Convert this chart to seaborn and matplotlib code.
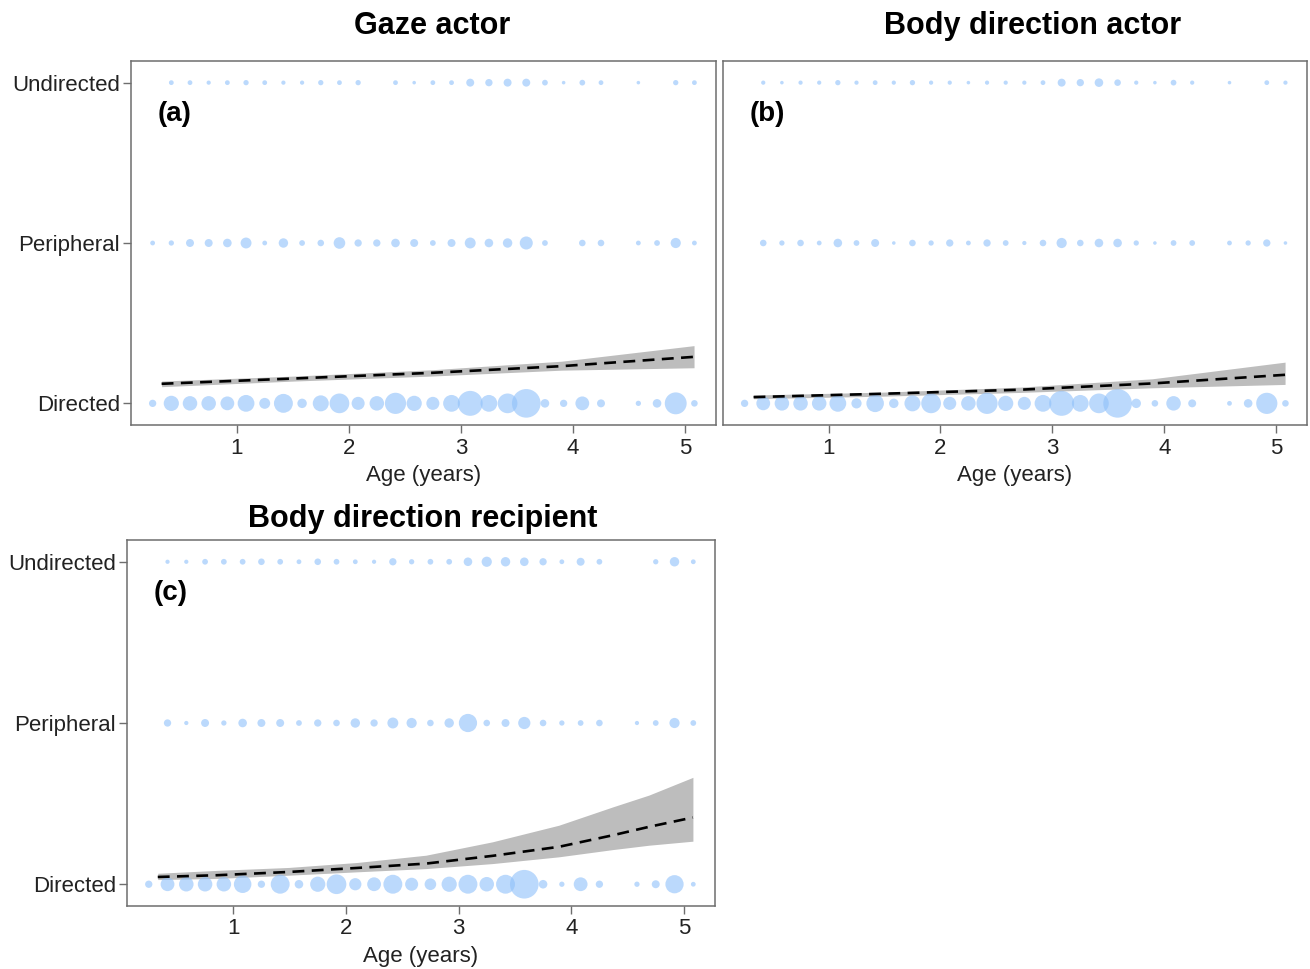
import numpy as np
import pandas as pd
import matplotlib
matplotlib.use("Agg")
import matplotlib.pyplot as plt
import seaborn as sns

# ---------------- data ----------------
months = list(range(3, 62, 2))          # age in months for each dot column
levels = ["Directed", "Peripheral", "Undirected"]
x_ticks = [1, 2, 3, 4, 5]

# counts (dot sizes) per age column, 0 = no dot
a_dir = [9, 44, 40, 40, 36, 54, 22, 69, 16, 49, 75, 32, 40, 87, 44, 32, 54, 121, 54, 75, 160, 13, 9, 36, 11, 0, 4, 13, 93, 7]
a_per = [3, 4, 11, 11, 13, 22, 3, 16, 5, 7, 25, 9, 9, 13, 11, 5, 11, 22, 13, 16, 32, 5, 0, 7, 7, 0, 3, 5, 19, 3]
a_und = [0, 3, 3, 2, 3, 4, 3, 2, 2, 4, 3, 4, 0, 3, 1, 3, 3, 11, 9, 11, 11, 5, 1, 5, 3, 0, 1, 0, 4, 3]

b_dir = [9, 36, 40, 40, 40, 54, 19, 59, 16, 49, 75, 32, 40, 87, 44, 32, 54, 121, 54, 75, 160, 16, 7, 40, 11, 0, 3, 13, 87, 7]
b_per = [0, 7, 4, 7, 3, 13, 5, 11, 1, 7, 4, 9, 3, 9, 5, 2, 7, 19, 7, 13, 13, 4, 1, 5, 5, 0, 3, 4, 9, 1]
b_und = [0, 2, 1, 2, 2, 4, 2, 3, 2, 4, 2, 2, 1, 2, 2, 2, 3, 11, 9, 13, 7, 2, 1, 5, 2, 0, 1, 0, 3, 2]

c_dir = [9, 36, 40, 40, 40, 59, 9, 69, 13, 44, 75, 28, 36, 69, 32, 25, 44, 69, 40, 69, 160, 13, 4, 36, 9, 0, 4, 11, 64, 3]
c_per = [0, 9, 2, 11, 4, 13, 11, 11, 5, 9, 7, 16, 9, 22, 19, 7, 16, 64, 7, 11, 28, 7, 4, 5, 7, 0, 2, 5, 19, 5]
c_und = [0, 2, 2, 5, 5, 5, 7, 5, 3, 7, 5, 3, 2, 9, 4, 5, 5, 13, 19, 16, 13, 9, 3, 11, 5, 0, 0, 4, 16, 3]

# fitted curves (value on 0..2 outcome scale) with confidence band
a_age = [0.33, 1.51, 2.73, 3.90, 5.08]
a_fit = [0.122, 0.155, 0.190, 0.232, 0.290]
a_lo = [0.104, 0.139, 0.170, 0.207, 0.222]
a_hi = [0.139, 0.170, 0.209, 0.263, 0.360]

b_age = [0.33, 1.49, 2.71, 3.89, 5.08]
b_fit = [0.039, 0.060, 0.085, 0.124, 0.178]
b_lo = [0.029, 0.045, 0.068, 0.097, 0.118]
b_hi = [0.052, 0.070, 0.101, 0.153, 0.257]

c_age = [0.33, 0.86, 1.49, 2.10, 2.71, 3.30, 3.89, 4.37, 4.69, 5.08]
c_fit = [0.045, 0.056, 0.076, 0.101, 0.128, 0.176, 0.232, 0.304, 0.356, 0.414]
c_lo = [0.029, 0.036, 0.056, 0.077, 0.097, 0.128, 0.170, 0.215, 0.242, 0.267]
c_hi = [0.068, 0.086, 0.104, 0.135, 0.180, 0.263, 0.366, 0.480, 0.553, 0.663]

titles = ["Gaze actor", "Body direction actor", "Body direction recipient"]
tags = ["(a)", "(b)", "(c)"]

# ---------------- style ----------------
sns.set_theme(style="white")
plt.rcParams["font.family"] = ["Liberation Sans", "DejaVu Sans"]

W, H = 1310, 969
fig = plt.figure(figsize=(W / 100, H / 100), dpi=100)

def px_axes(l, t, r, b):
    return fig.add_axes([l / W, 1 - b / H, (r - l) / W, (b - t) / H])

axes = [px_axes(131, 61, 716, 425), px_axes(723, 61, 1307, 425), px_axes(127, 540, 715, 906)]
title_pos = [(432, 26), (1033, 26), (423, 519)]

panels = [
    (a_dir, a_per, a_und, a_age, a_fit, a_lo, a_hi),
    (b_dir, b_per, b_und, b_age, b_fit, b_lo, b_hi),
    (c_dir, c_per, c_und, c_age, c_fit, c_lo, c_hi),
]

dot_color = "#8FC0FA"
frame_color = "#6e6e6e"

for i, (ax, (d, p, u, age, fit, lo, hi)) in enumerate(zip(axes, panels)):
    rows = []
    for lev, counts in enumerate([d, p, u]):
        for m, n in zip(months, counts):
            if n > 0:
                rows.append({"age": m / 12.0, "level": lev, "n": n})
    df = pd.DataFrame(rows)

    ax.fill_between(age, lo, hi, color="#bdbdbd", linewidth=0, zorder=1)
    sns.scatterplot(data=df, x="age", y="level", size="n", sizes=(4, 425),
                    size_norm=(0, 160), color=dot_color, alpha=0.6,
                    linewidth=0, legend=False, ax=ax, zorder=2)
    line_df = pd.DataFrame({"age": age, "fit": fit})
    sns.lineplot(data=line_df, x="age", y="fit", color="black", linewidth=1.9,
                 ax=ax, zorder=3, dashes=False)
    ax.lines[-1].set_dashes((4.5, 2.8))

    ax.set_xlim(0.057, 5.276)
    ax.set_ylim(-0.135, 2.135)
    ax.set_xticks(x_ticks)
    ax.set_xticklabels([str(t) for t in x_ticks])
    ax.set_yticks([0, 1, 2])
    ax.set_yticklabels(levels)
    ax.set_xlabel("Age (years)", fontsize=16, color="#222222", labelpad=5)
    ax.set_ylabel("")
    ax.tick_params(axis="both", which="major", length=6, width=1,
                   color=frame_color, labelsize=16, labelcolor="#222222",
                   direction="out", bottom=True, left=True, pad=2)
    ax.tick_params(axis="x", pad=3)
    if i == 1:
        ax.tick_params(axis="y", left=False, labelleft=False)
    for s in ax.spines.values():
        s.set_color(frame_color)
        s.set_linewidth(1.1)
    ax.text(0.046, 0.855, tags[i], transform=ax.transAxes, fontsize=20,
            fontweight="bold", ha="left", va="center", color="black")
    tx, ty = title_pos[i]
    fig.text(tx / W, 1 - ty / H, titles[i], fontsize=22, fontweight="bold",
             ha="center", va="center", color="black")

fig.savefig("out.png", dpi=100)
